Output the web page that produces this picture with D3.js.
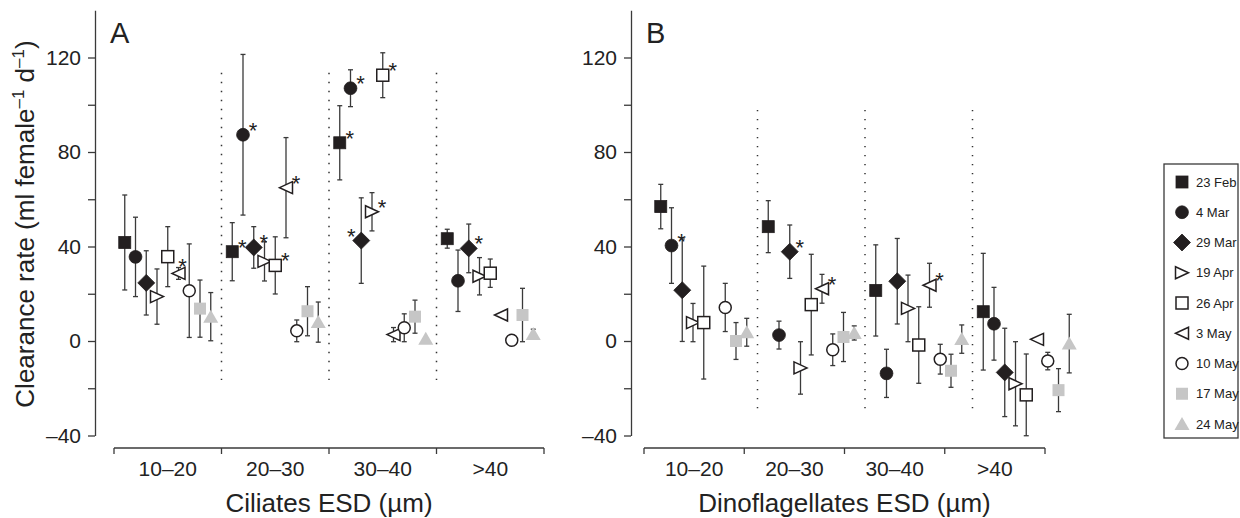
<!DOCTYPE html>
<html>
<head>
<meta charset="utf-8">
<script src="https://cdn.jsdelivr.net/npm/d3@7"></script>
<style>
  body { margin: 0; background: #fff; }
  text { font-family: "Liberation Sans", Arial, Helvetica, sans-serif; fill: #222; }
</style>
</head>
<body>
<div id="chart"></div>
<script>
const groups = ["10–20", "20–30", "30–40", ">40"];
const dates = ["23 Feb", "4 Mar", "29 Mar", "19 Apr", "26 Apr", "3 May", "10 May", "17 May", "24 May"];

// ciliates, one row per size group, one value per date
const ciliatesMean = [
    [41.7, 35.6, 24.6, 18.8, 35.7, 28.6, 21.3, 13.7, 10.3],
    [37.8, 87.3, 39.6, 33.7, 32.0, 64.9, 4.3, 12.6, 8.0],
    [83.9, 107.0, 42.5, 54.7, 112.5, 2.7, 5.6, 10.3, 1.0],
    [43.3, 25.5, 39.2, 27.4, 28.7, 11.0, 0.3, 11.0, 3.0]
];
const ciliatesErr = [
    [20.1, 16.8, 13.6, 11.7, 12.7, 2.5, 19.8, 12.1, 10.2],
    [12.3, 34.0, 8.8, 8.3, 12.1, 21.2, 4.6, 10.4, 8.5],
    [15.7, 7.8, 18.1, 8.1, 9.5, 3.0, 5.9, 7.0, 0],
    [4.0, 13.0, 10.3, 7.9, 6.0, 0, 0, 11.3, 2.0]
];
// [group, date, side]
const ciliatesStars = [
    [0, 5, "up"], [1, 0, "right"], [1, 1, "right"], [1, 2, "right"], [1, 4, "right"], [1, 5, "right"],
    [2, 0, "right"], [2, 1, "right"], [2, 2, "left"], [2, 3, "right"], [2, 4, "right"], [3, 2, "right"]
];

const dinoMean = [
    [56.9, 40.4, 21.5, 7.8, 7.8, null, 14.2, 0.0, 3.7],
    [48.4, 2.5, 37.8, -11.4, 15.4, 22.1, -3.7, 1.7, 3.4],
    [21.4, -13.7, 25.3, 13.8, -1.7, 23.6, -7.7, -12.6, 0.8],
    [12.4, 7.3, -13.3, -18.1, -22.8, 0.7, -8.5, -20.8, -1.1]
];
const dinoErr = [
    [9.4, 16.0, 21.7, 8.1, 23.9, null, 10.2, 7.8, 5.9],
    [11.0, 5.9, 11.3, 11.1, 21.3, 6.1, 6.7, 10.4, 3.0],
    [19.3, 10.2, 18.1, 14.1, 16.2, 9.3, 6.3, 7.0, 6.0],
    [24.7, 15.4, 18.7, 17.8, 17.3, 0, 3.7, 9.1, 12.4]
];
const dinoStars = [[0, 1, "right"], [1, 2, "right"], [1, 5, "right"], [2, 5, "right"]];

const yTicks = [-40, 0, 40, 80, 120];

const width = 1240;
const height = 518;
const black = "#231f20";
const grey = "#c6c6c6";
const lineCol = "#3a3a3a";

// marker style per date
const markers = [
    { shape: "square", fill: black },
    { shape: "circle", fill: black },
    { shape: "diamond", fill: black },
    { shape: "triRight", fill: "#fff" },
    { shape: "square", fill: "#fff" },
    { shape: "triLeft", fill: "#fff" },
    { shape: "circle", fill: "#fff" },
    { shape: "square", fill: grey },
    { shape: "triUp", fill: grey }
];

const svg = d3.select("#chart").append("svg")
    .attr("width", width)
    .attr("height", height);
svg.append("rect").attr("width", width).attr("height", height).attr("fill", "#fff");

const y = d3.scaleLinear().domain([-40, 140]).range([435.5, 10.25]);

function drawMarker(sel, m) {
    const filled = m.fill !== "#fff";
    const stroke = m.fill === grey ? "none" : black;
    let el;
    if (m.shape === "square") {
        el = sel.append("rect").attr("x", -6).attr("y", -6).attr("width", 12).attr("height", 12);
    } else if (m.shape === "circle") {
        el = sel.append("circle").attr("r", filled ? 6.4 : 6);
    } else if (m.shape === "diamond") {
        el = sel.append("path").attr("d", "M0,-8.5L8.5,0L0,8.5L-8.5,0Z");
    } else if (m.shape === "triRight") {
        el = sel.append("path").attr("d", "M-6.5,-6L6.5,0L-6.5,6Z");
    } else if (m.shape === "triLeft") {
        el = sel.append("path").attr("d", "M6.5,-6L-6.5,0L6.5,6Z");
    } else {
        el = sel.append("path").attr("d", "M0,-7L7.5,6L-7.5,6Z");
    }
    el.attr("fill", m.fill)
        .attr("stroke", stroke)
        .attr("stroke-width", filled ? 0.8 : 1.5);
}

function drawPanel(opt) {
    const g = svg.append("g");

    // x position of the points: 10 slots per group
    const band = d3.scaleBand().domain(groups).range([opt.dataX0, opt.dataX0 + 4 * 107.5]);
    const slot = d3.scalePoint().domain(d3.range(-1, 10)).range([0, band.bandwidth()]);
    // bracket axis below
    const axisBand = d3.scaleBand().domain(groups).range([opt.axisX0, opt.axisX1]);

    // y axis
    const yAxis = d3.axisLeft(y)
        .tickValues(d3.range(-40, 121, 20))
        .tickSize(7)
        .tickSizeOuter(0)
        .tickPadding(7)
        .tickFormat(d => yTicks.includes(d) ? (d < 0 ? "–" + (-d) : d) : "");
    const ya = g.append("g").attr("transform", `translate(${opt.axisY},0)`).call(yAxis);
    ya.select(".domain").attr("stroke", lineCol).attr("stroke-width", 1.3);
    ya.selectAll(".tick line").attr("stroke", lineCol).attr("stroke-width", 1.3);
    ya.selectAll(".tick text").attr("font-size", 21).attr("fill", "#222")
        .attr("font-family", "Liberation Sans, Arial, sans-serif");

    // dotted separators
    g.selectAll(".sep").data(groups.slice(1)).enter().append("line")
        .attr("x1", d => band(d)).attr("x2", d => band(d))
        .attr("y1", y(opt.sepTop)).attr("y2", y(opt.sepBottom))
        .attr("stroke", "#333").attr("stroke-width", 1.5)
        .attr("stroke-dasharray", "1.4,7.6");

    // bracket axis
    const by = 448;
    g.append("line").attr("x1", opt.axisX0).attr("x2", opt.axisX1)
        .attr("y1", by).attr("y2", by).attr("stroke", lineCol).attr("stroke-width", 1.3);
    const edges = groups.map(d => axisBand(d)).concat([opt.axisX1]);
    g.selectAll(".btick").data(edges).enter().append("line")
        .attr("x1", d => d).attr("x2", d => d)
        .attr("y1", by).attr("y2", by + 6)
        .attr("stroke", lineCol).attr("stroke-width", 1.3);
    g.selectAll(".blabel").data(groups).enter().append("text")
        .attr("x", d => axisBand(d) + axisBand.bandwidth() / 2)
        .attr("y", 476)
        .attr("text-anchor", "middle")
        .attr("font-size", 21)
        .text(d => d);
    g.append("text")
        .attr("x", (opt.axisX0 + opt.axisX1) / 2)
        .attr("y", 512)
        .attr("text-anchor", "middle")
        .attr("font-size", 26)
        .text(opt.xTitle);

    // panel letter
    g.append("text").attr("x", opt.axisY + 15).attr("y", 43)
        .attr("font-size", 29).text(opt.letter);

    // points
    groups.forEach((grp, gi) => {
        dates.forEach((dt, di) => {
            const v = opt.mean[gi][di];
            if (v === null) return;
            const e = opt.err[gi][di];
            const cx = band(grp) + slot(di);
            const pg = g.append("g");
            if (e > 0) {
                pg.append("line").attr("x1", cx).attr("x2", cx)
                    .attr("y1", y(v - e)).attr("y2", y(v + e))
                    .attr("stroke", lineCol).attr("stroke-width", 1.3);
                [v - e, v + e].forEach(w => {
                    pg.append("line").attr("x1", cx - 2.5).attr("x2", cx + 2.5)
                        .attr("y1", y(w)).attr("y2", y(w))
                        .attr("stroke", lineCol).attr("stroke-width", 1.3);
                });
            }
            const mg = pg.append("g").attr("transform", `translate(${cx},${y(v)})`);
            drawMarker(mg, markers[di]);
        });
    });

    // significance stars
    opt.stars.forEach(([gi, di, side]) => {
        const cx = band(groups[gi]) + slot(di);
        const cy = y(opt.mean[gi][di]);
        const dx = side === "left" ? -10 : side === "up" ? 4 : 10;
        const dy = side === "up" ? -11 : -9;
        g.append("text")
            .attr("x", cx + dx).attr("y", cy + dy + 12)
            .attr("text-anchor", "middle")
            .attr("font-size", 22)
            .text("*");
    });
}

drawPanel({
    letter: "A", axisY: 95, dataX0: 114, axisX0: 114, axisX1: 544,
    sepTop: 113.5, sepBottom: -16.5,
    mean: ciliatesMean, err: ciliatesErr, stars: ciliatesStars,
    xTitle: "Ciliates ESD (µm)"
});
drawPanel({
    letter: "B", axisY: 631, dataX0: 650, axisX0: 644, axisX1: 1045,
    sepTop: 97.8, sepBottom: -31.7,
    mean: dinoMean, err: dinoErr, stars: dinoStars,
    xTitle: "Dinoflagellates ESD (µm)"
});

// y axis title
const yt = svg.append("text")
    .attr("transform", "translate(34,224) rotate(-90)")
    .attr("text-anchor", "middle")
    .attr("font-size", 26);
yt.append("tspan").text("Clearance rate (ml female");
yt.append("tspan").attr("dy", -10).attr("font-size", 17).text("–1");
yt.append("tspan").attr("dy", 10).text(" d");
yt.append("tspan").attr("dy", -10).attr("font-size", 17).text("–1");
yt.append("tspan").attr("dy", 10).text(")");

// legend
const lg = svg.append("g").attr("transform", "translate(1164,164)");
lg.append("rect").attr("width", 74).attr("height", 274)
    .attr("fill", "#fff").attr("stroke", lineCol).attr("stroke-width", 1.3);
dates.forEach((dt, i) => {
    const row = lg.append("g").attr("transform", `translate(18,${18 + i * 30.25})`);
    drawMarker(row, markers[i]);
    row.append("text").attr("x", 14).attr("y", 0).attr("dy", "0.35em")
        .attr("font-size", 13).text(dt);
});
</script>
</body>
</html>
